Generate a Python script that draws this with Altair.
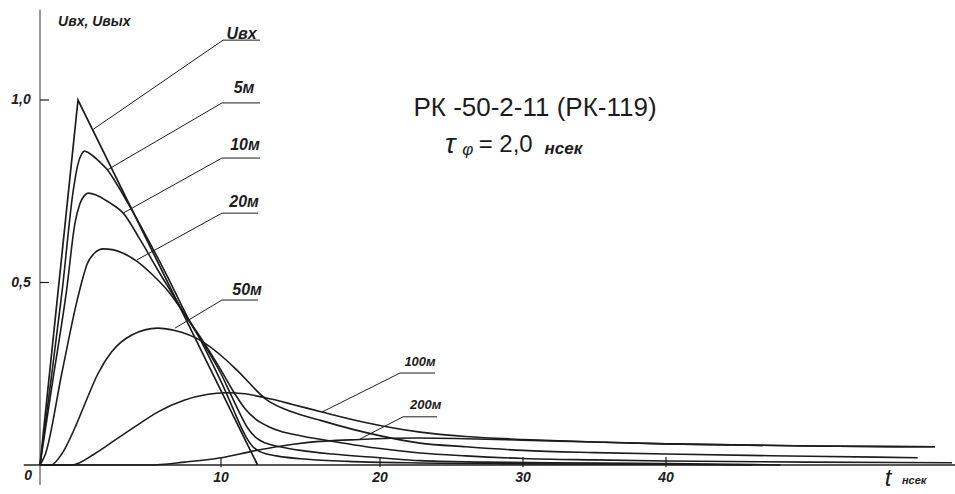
import altair as alt
import pandas as pd

# ---------------- data ----------------
# input pulse U_вх (triangular)
t_in = [0, 2.1, 12.3]
u_in = [0, 1.0, 0]

t_5 = [0, 0.6, 1.23, 1.84, 2.1, 2.3, 2.45, 2.7, 3.2, 3.7, 4.3, 5.0, 6.0, 7.0, 8.1, 9.0, 9.6,
       10.2, 10.8, 11.2, 11.6, 12.0, 12.5, 13.5, 15, 18, 22, 30, 40, 46]
u_5 = [0, 0.23, 0.48, 0.753, 0.825, 0.852, 0.86, 0.855, 0.835, 0.81, 0.765, 0.705, 0.615,
       0.52, 0.41, 0.33, 0.27, 0.21, 0.15, 0.11, 0.075, 0.05, 0.036, 0.025, 0.017, 0.01,
       0.006, 0.003, 0.002, 0.0]

t_10 = [0, 0.7, 1.47, 1.93, 2.2, 2.45, 2.67, 3.1, 3.8, 4.6, 5.5, 6.5, 7.3, 8.1, 9.0, 10.0,
        10.6, 11.2, 11.7, 12.2, 12.8, 13.7, 15, 17, 20, 22.8, 27, 32, 40, 48]
u_10 = [0, 0.23, 0.479, 0.662, 0.715, 0.738, 0.745, 0.74, 0.72, 0.69, 0.62, 0.535, 0.47,
        0.405, 0.335, 0.25, 0.195, 0.14, 0.1, 0.075, 0.06, 0.05, 0.04, 0.03, 0.02, 0.012,
        0.008, 0.006, 0.004, 0.0]

t_20 = [0, 0.3, 1.2, 2.0, 2.3, 2.6, 3.0, 3.5, 4.0, 4.6, 5.36, 6.2, 7.07, 8.1, 9.0, 10.0,
        10.8, 11.5, 12.2, 13.0, 13.7, 15, 17, 20, 22.8, 26, 30, 35, 40, 50, 60]
u_20 = [0, 0.03, 0.25, 0.44, 0.5, 0.55, 0.58, 0.592, 0.59, 0.58, 0.558, 0.522, 0.477,
        0.405, 0.34, 0.26, 0.2, 0.155, 0.125, 0.105, 0.093, 0.08, 0.065, 0.045, 0.033,
        0.025, 0.018, 0.014, 0.011, 0.008, 0.006]

t_50 = [0, 0.6, 1.2, 2.0, 2.5, 3.2, 3.96, 5.07, 6.5, 7.5, 8.84, 10, 11, 12.9, 14.5, 16.2,
        19, 22.8, 26, 30, 35, 40, 50, 57.6]
u_50 = [0, 0, 0.03, 0.11, 0.17, 0.25, 0.31, 0.356, 0.375, 0.368, 0.342, 0.3, 0.26, 0.178,
        0.145, 0.123, 0.09, 0.06, 0.05, 0.04, 0.034, 0.03, 0.024, 0.02]

t_100 = [0, 1.75, 3.0, 4.2, 5.25, 6.5, 8.0, 9.2, 10.3, 11.5, 12.8, 14.5, 16.35, 19, 22.8,
         26, 30, 35, 40, 50, 58.8]
u_100 = [0, 0, 0.03, 0.07, 0.105, 0.145, 0.178, 0.193, 0.198, 0.195, 0.184, 0.166, 0.145,
         0.117, 0.09, 0.078, 0.07, 0.063, 0.058, 0.052, 0.05]

t_200 = [0, 6.0, 8, 10, 12, 13.5, 15.5, 18.7, 22.8, 26, 30, 35, 40, 50, 58.8]
u_200 = [0, 0, 0.008, 0.02, 0.038, 0.05, 0.062, 0.07, 0.074, 0.072, 0.068, 0.063, 0.058,
         0.052, 0.05]

# curve labels and their leader lines (curve point -> elbow -> end)
labels = ["Uвх", "5м", "10м", "20м", "50м", "100м", "200м"]
label_x = [11.29, 11.45, 11.51, 11.45, 11.64, 22.8, 23.2]
label_y = [1.181, 1.033, 0.877, 0.721, 0.479, 0.282, 0.164]
lead_x0 = [2.95, 3.70, 4.59, 5.36, 7.46, 16.35, 18.74]
lead_y0 = [0.92, 0.808, 0.690, 0.562, 0.375, 0.145, 0.071]
lead_x1 = [10.13, 10.06, 10.06, 10.06, 10.06, 21.40, 21.61]
lead_y1 = [1.164, 0.992, 0.841, 0.690, 0.452, 0.252, 0.132]
lead_x2 = [12.45, 12.45, 12.45, 12.33, 12.33, 23.85, 23.99]

# axis ticks and labels
x_ticks = [10, 20, 30, 40]
x_tick_labels = ["10", "20", "30", "40"]
y_ticks = [0.5, 1.0]
y_tick_labels = ["0,5", "1,0"]

title_1 = "РК -50-2-11  (РК-119)"
y_title = "Uвх, Uвых"

# ---------------- scales ----------------
XS = alt.Scale(domain=[0, 10, 20, 30, 40, 60], range=[40, 221, 380, 523, 666, 952],
               nice=False, zero=False)
YS = alt.Scale(domain=[0, 1], range=[465, 100], nice=False, zero=False)
INK = "#1c1c1c"
FONT = "Liberation Sans"

def curve_df(name, t, u):
    return pd.DataFrame({"series": name, "t": t, "u": u, "i": range(len(t))})

curves = pd.concat([
    curve_df("5м", t_5, u_5), curve_df("10м", t_10, u_10), curve_df("20м", t_20, u_20),
    curve_df("50м", t_50, u_50), curve_df("100м", t_100, u_100), curve_df("200м", t_200, u_200),
])
inp = curve_df("Uвх", t_in, u_in)

X = lambda f: alt.X(f, type="quantitative", scale=XS, axis=None)
Y = lambda f: alt.Y(f, type="quantitative", scale=YS, axis=None)

def at(x, y):
    return dict(x=alt.X(datum=x, scale=XS, axis=None), y=alt.Y(datum=y, scale=YS, axis=None))

def label(text, x, y, size, italic=True, bold=True, align="left"):
    kw = dict(font=FONT, fontSize=size, color=INK, align=align, baseline="middle")
    if italic:
        kw["fontStyle"] = "italic"
    if bold:
        kw["fontWeight"] = "bold"
    return alt.Chart(pd.DataFrame({"text": [text]})).mark_text(**kw).encode(
        text="text:N", **at(x, y))

curve_layer = alt.Chart(curves).mark_line(
    color=INK, strokeWidth=1.6, interpolate="monotone"
).encode(x=X("t"), y=Y("u"), detail="series:N", order="i:Q")

input_layer = alt.Chart(inp).mark_line(color=INK, strokeWidth=1.7).encode(
    x=X("t"), y=Y("u"), order="i:Q")

# leader lines
rows = []
for k, lab in enumerate(labels):
    rows += [
        {"lab": lab, "i": 0, "x": lead_x0[k], "y": lead_y0[k]},
        {"lab": lab, "i": 1, "x": lead_x1[k], "y": lead_y1[k]},
        {"lab": lab, "i": 2, "x": lead_x2[k], "y": lead_y1[k]},
    ]
leaders = alt.Chart(pd.DataFrame(rows)).mark_line(color=INK, strokeWidth=1.0).encode(
    x=X("x"), y=Y("y"), detail="lab:N", order="i:Q")

lab_df = pd.DataFrame({"x": label_x, "y": label_y, "text": labels})
big_labels = alt.Chart(lab_df.iloc[:5]).mark_text(
    font=FONT, fontStyle="italic", fontWeight="bold", fontSize=16, color=INK,
    align="center", baseline="middle"
).encode(x=X("x"), y=Y("y"), text="text:N")
small_labels = alt.Chart(lab_df.iloc[5:]).mark_text(
    font=FONT, fontStyle="italic", fontWeight="bold", fontSize=13, color=INK,
    align="center", baseline="middle"
).encode(x=X("x"), y=Y("y"), text="text:N")

# axes drawn as rules
y_axis = alt.Chart(pd.DataFrame({"a": [0]})).mark_rule(color="#444", strokeWidth=1.1).encode(
    x=alt.X(datum=0, scale=XS, axis=None),
    y=alt.Y(datum=-0.055, scale=YS, axis=None), y2=alt.Y2(datum=1.247))
x_axis = alt.Chart(pd.DataFrame({"a": [0]})).mark_rule(color="#222", strokeWidth=1.3).encode(
    y=alt.Y(datum=0, scale=YS, axis=None),
    x=alt.X(datum=-0.9, scale=XS, axis=None), x2=alt.X2(datum=60.4))

xt = pd.DataFrame({"x": x_ticks, "text": x_tick_labels})
x_tick_marks = alt.Chart(xt).mark_rule(color=INK, strokeWidth=1.2).encode(
    x=X("x"), y=alt.Y(datum=-0.006, scale=YS, axis=None), y2=alt.Y2(datum=0.022))
x_tick_text = alt.Chart(xt).mark_text(
    font=FONT, fontStyle="italic", fontWeight="bold", fontSize=14, color=INK, baseline="middle"
).encode(x=X("x"), y=alt.Y(datum=-0.035, scale=YS, axis=None), text="text:N")
zero_text = label("0", -0.65, -0.03, 14, align="center")

yt = pd.DataFrame({"y": y_ticks, "text": y_tick_labels})
y_tick_marks = alt.Chart(yt).mark_rule(color=INK, strokeWidth=1.2).encode(
    y=Y("y"), x=alt.X(datum=0, scale=XS, axis=None), x2=alt.X2(datum=0.5))
y_tick_text = alt.Chart(yt).mark_text(
    font=FONT, fontStyle="italic", fontWeight="bold", fontSize=14, color=INK, baseline="middle"
).encode(y=Y("y"), x=alt.X(datum=-1.05, scale=XS, axis=None), text="text:N")

# titles
ytitle = label(y_title, 1.0, 1.214, 14)
t_big = label("t", 55.3, -0.037, 24, bold=False)
t_unit = label("нсек", 56.5, -0.045, 11)

title_a = label(title_1, 30.84, 0.978, 26, italic=False, bold=False, align="center")
tau = label("τ", 24.55, 0.877, 28, bold=False)
tau_sub = label("φ", 25.75, 0.862, 17, bold=False)
tau_val = label("= 2,0", 26.9, 0.877, 24, italic=False, bold=False)
tau_unit = label("нсек", 31.5, 0.866, 17)

chart = alt.layer(
    y_axis, x_axis, x_tick_marks, y_tick_marks,
    curve_layer, input_layer, leaders,
    big_labels, small_labels, x_tick_text, zero_text, y_tick_text,
    ytitle, t_big, t_unit, title_a, tau, tau_sub, tau_val, tau_unit,
).properties(
    width=955, height=494, padding=0,
    autosize=alt.AutoSizeParams(type="none"),
    background="white",
).configure_view(stroke=None)

chart.save("out.html", embed_options={"renderer": "svg", "actions": False})
